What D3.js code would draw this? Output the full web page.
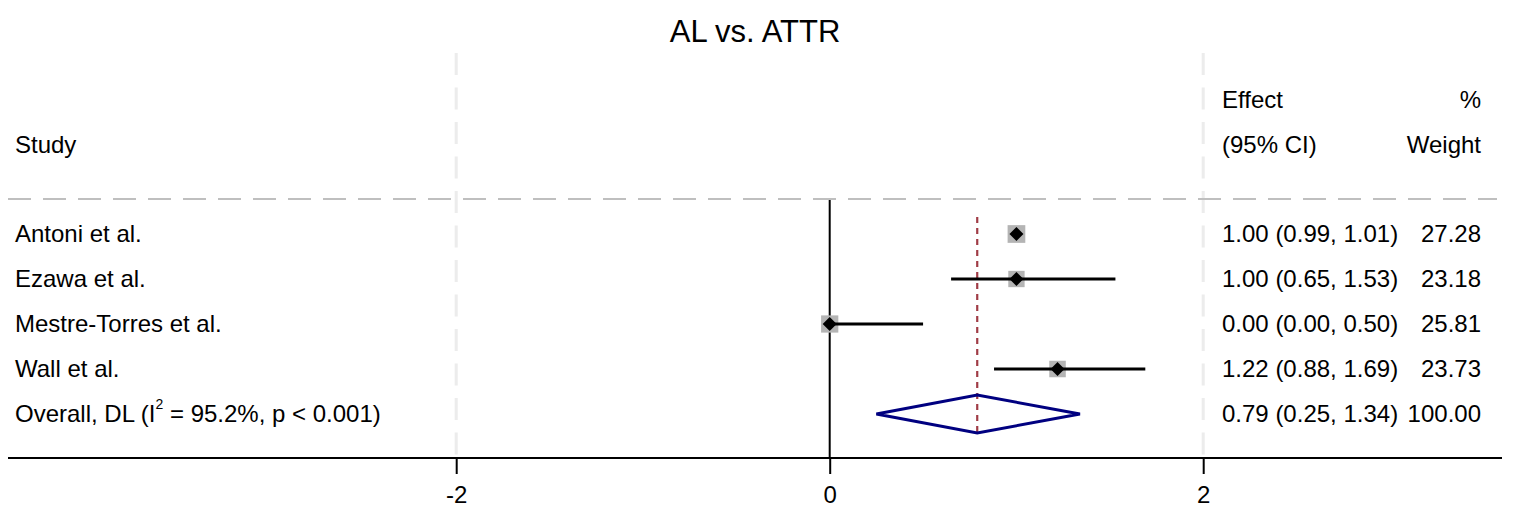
<!DOCTYPE html>
<html><head><meta charset="utf-8">
<script src="https://cdn.jsdelivr.net/npm/d3@7"></script>
<style>body{margin:0;background:#fff;} svg{display:block;} text{font-family:"Liberation Sans",Arial,sans-serif;fill:#000;}</style>
</head><body>
<svg id="c" width="1519" height="515"></svg>
<script>
const title = "AL vs. ATTR";
const studies = ["Antoni et al.", "Ezawa et al.", "Mestre-Torres et al.", "Wall et al."];
const effects = [1.00, 1.00, 0.00, 1.22];
const lower = [0.99, 0.65, 0.00, 0.88];
const upper = [1.01, 1.53, 0.50, 1.69];
const weights = [27.28, 23.18, 25.81, 23.73];
const overallLabel = ["Overall, DL (I", "2", " = 95.2%, p < 0.001)"];
const overallEffect = 0.79, overallLower = 0.25, overallUpper = 1.34, overallWeight = 100.00;
const xTicks = [-2, 0, 2];
const gridTicks = [-2, 2];

const svg = d3.select("#c");
const x = d3.scaleLinear().domain([-4.4, 3.6]).range([8, 1502]);
const y = d3.scaleLinear().domain([0, 4]).range([234, 414]);
const axisY = 458;
const fs = 24;
const f2 = d => d.toFixed(2);

// title
svg.append("text").attr("x", 755).attr("y", 42).attr("text-anchor", "middle")
  .style("font-size", "31px").text(title);

// vertical grid lines
svg.selectAll(".grid").data(gridTicks).join("line")
  .attr("x1", d => x(d)).attr("x2", d => x(d)).attr("y1", 53).attr("y2", axisY)
  .attr("stroke", "#ececec").attr("stroke-width", 3).attr("stroke-dasharray", "22,12.5");

// horizontal dashed separator
svg.append("line").attr("x1", 8).attr("x2", 1497).attr("y1", 199).attr("y2", 199)
  .attr("stroke", "#bfbfbf").attr("stroke-width", 2).attr("stroke-dasharray", "23,12");

// zero line
svg.append("line").attr("x1", x(0)).attr("x2", x(0)).attr("y1", 200).attr("y2", axisY)
  .attr("stroke", "#000").attr("stroke-width", 2);

// overall effect dashed line
svg.append("line").attr("x1", x(overallEffect)).attr("x2", x(overallEffect)).attr("y1", 217).attr("y2", 435)
  .attr("stroke", "#a03c46").attr("stroke-width", 2.2).attr("stroke-dasharray", "6,5");

// axis
const axis = d3.axisBottom(x).tickValues(xTicks).tickSize(16).tickPadding(12).tickFormat(d => String(d));
const ag = svg.append("g").attr("transform", `translate(0,${axisY})`).call(axis);
ag.select(".domain").attr("stroke", "#000").attr("stroke-width", 2).attr("d", `M8,0H1502`);
ag.selectAll(".tick line").attr("stroke", "#000").attr("stroke-width", 2);
ag.selectAll(".tick text").style("font-size", fs + "px").attr("fill", "#000")
  .style("font-family", '"Liberation Sans",Arial,sans-serif');

const idx = d3.range(studies.length);
// weight boxes
const k = 3.39;
svg.selectAll(".box").data(idx).join("rect")
  .attr("x", i => x(effects[i]) - k * Math.sqrt(weights[i]) / 2)
  .attr("y", i => y(i) - k * Math.sqrt(weights[i]) / 2)
  .attr("width", i => k * Math.sqrt(weights[i]))
  .attr("height", i => k * Math.sqrt(weights[i]))
  .attr("fill", "#b4b4b4");
// CI lines
svg.selectAll(".ci").data(idx).join("line")
  .attr("x1", i => x(lower[i])).attr("x2", i => x(upper[i]))
  .attr("y1", i => y(i)).attr("y2", i => y(i))
  .attr("stroke", "#000").attr("stroke-width", 3);
// point markers
const dm = 7;
svg.selectAll(".pt").data(idx).join("path")
  .attr("d", i => { const cx = x(effects[i]), cy = y(i); return `M${cx},${cy-dm}L${cx+dm},${cy}L${cx},${cy+dm}L${cx-dm},${cy}Z`; })
  .attr("fill", "#000");

// overall diamond
const oy = y(4);
svg.append("path")
  .attr("d", `M${x(overallLower)},${oy}L${x(overallEffect)},${oy-19}L${x(overallUpper)},${oy}L${x(overallEffect)},${oy+19}Z`)
  .attr("fill", "none").attr("stroke", "#000080").attr("stroke-width", 3);

// headers
const head = (t, xx, yy, anchor) => svg.append("text").attr("x", xx).attr("y", yy)
  .attr("text-anchor", anchor || "start").style("font-size", fs + "px").text(t);
head("Study", 15, 153);
head("Effect", 1222, 108);
head("(95% CI)", 1222, 153);
head("%", 1481, 108, "end");
head("Weight", 1481, 153, "end");

// study labels
svg.selectAll(".lab").data(idx).join("text")
  .attr("x", 15).attr("y", i => y(i) + 8).style("font-size", fs + "px").text(i => studies[i]);
svg.selectAll(".eff").data(idx).join("text")
  .attr("x", 1222).attr("y", i => y(i) + 8).style("font-size", fs + "px")
  .text(i => `${f2(effects[i])} (${f2(lower[i])}, ${f2(upper[i])})`);
svg.selectAll(".wt").data(idx).join("text")
  .attr("x", 1481).attr("y", i => y(i) + 8).attr("text-anchor", "end").style("font-size", fs + "px")
  .text(i => f2(weights[i]));

// overall row
const ot = svg.append("text").attr("x", 15).attr("y", oy + 8).style("font-size", fs + "px");
ot.append("tspan").text(overallLabel[0]);
ot.append("tspan").attr("dy", -13).style("font-size", "14px").text(overallLabel[1]);
ot.append("tspan").attr("dy", 13).text(overallLabel[2]);
head(`${f2(overallEffect)} (${f2(overallLower)}, ${f2(overallUpper)})`, 1222, oy + 8);
head(f2(overallWeight), 1481, oy + 8, "end");
</script>
</body></html>
